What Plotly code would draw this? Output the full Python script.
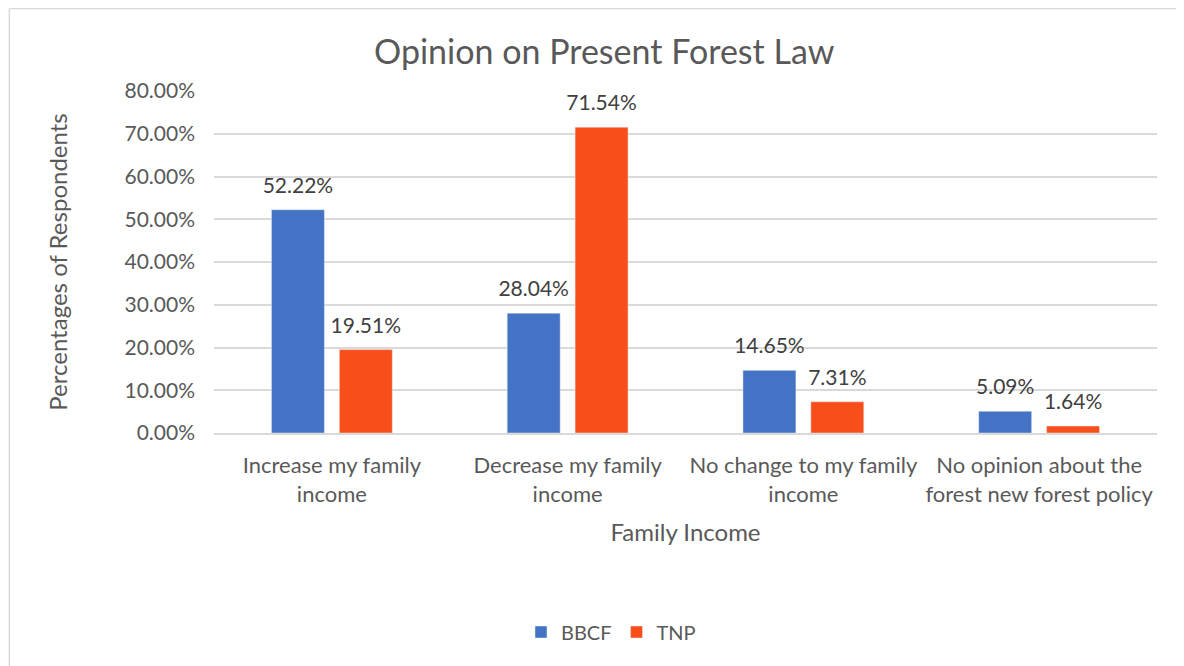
import plotly.graph_objects as go

categories = ["Increase my family<br>income", "Decrease my family<br>income",
              "No change to my family<br>income", "No opinion about the<br>forest new forest policy"]
bbcf = [0.5222, 0.2804, 0.1465, 0.0509]
tnp = [0.1951, 0.7154, 0.0731, 0.0164]
tick_vals = [0, 0.1, 0.2, 0.3, 0.4, 0.5, 0.6, 0.7, 0.8]

FONT = "Lato"
GREY = "#595959"
series = [("BBCF", bbcf, "#4472C4"), ("TNP", tnp, "#F84F1A")]

fig = go.Figure()
for name, vals, color in series:
    fig.add_trace(go.Bar(name=name, x=categories, y=vals, marker_color=color,
                         offsetgroup=name, cliponaxis=False))
for name, vals, color in series:
    fig.add_trace(go.Scatter(x=categories, y=vals, mode="markers+text", offsetgroup=name,
                             marker=dict(size=17, opacity=0), showlegend=False, hoverinfo="skip",
                             texttemplate="%{y:.2%}", textposition="top center",
                             textfont=dict(color="#404040", size=21, family=FONT),
                             cliponaxis=False))

border = dict(color="#d9d9d9", width=1.5)
fig.update_layout(
    width=1176, height=658,
    margin=dict(l=205.5, r=27, t=83, b=233, autoexpand=False),
    paper_bgcolor="white", plot_bgcolor="white",
    barmode="group", bargap=0.424, bargroupgap=0.22,
    scattermode="group", scattergap=0.424,
    font=dict(family=FONT, color=GREY),
    title=dict(text="Opinion on Present Forest Law", x=0.507, xanchor="center",
               y=0.933, yanchor="middle", font=dict(size=34, color=GREY, family=FONT)),
    legend=dict(orientation="h", x=0.421, xanchor="center", y=-0.582, yanchor="middle",
                font=dict(size=20, color=GREY, family=FONT), traceorder="normal"),
    xaxis=dict(title=dict(text="Family Income", font=dict(size=24, color=GREY), standoff=18),
               tickfont=dict(size=22, color=GREY), showgrid=False, automargin=False,
               ticklabelstandoff=12,
               showline=True, linecolor="#d9d9d9", linewidth=1.5, ticks=""),
    yaxis=dict(title=dict(text="Percentages of Respondents", font=dict(size=24, color=GREY), standoff=50),
               range=[0, 0.8], tickvals=tick_vals, tickformat=".2%", automargin=False,
               ticklabelstandoff=18,
               tickfont=dict(size=21, color=GREY), gridcolor="#d9d9d9", gridwidth=1.5,
               zeroline=False, showline=False, ticks=""),
    shapes=[
        dict(type="line", xref="paper", yref="paper", x0=-0.2170, x1=1.08, y0=1.2412, y1=1.2412,
             line=border, layer="below"),
        dict(type="line", xref="paper", yref="paper", x0=-0.2170, x1=-0.2170, y0=-0.75, y1=1.2412,
             line=border, layer="below"),
    ],
)

fig.write_html("out.html")
